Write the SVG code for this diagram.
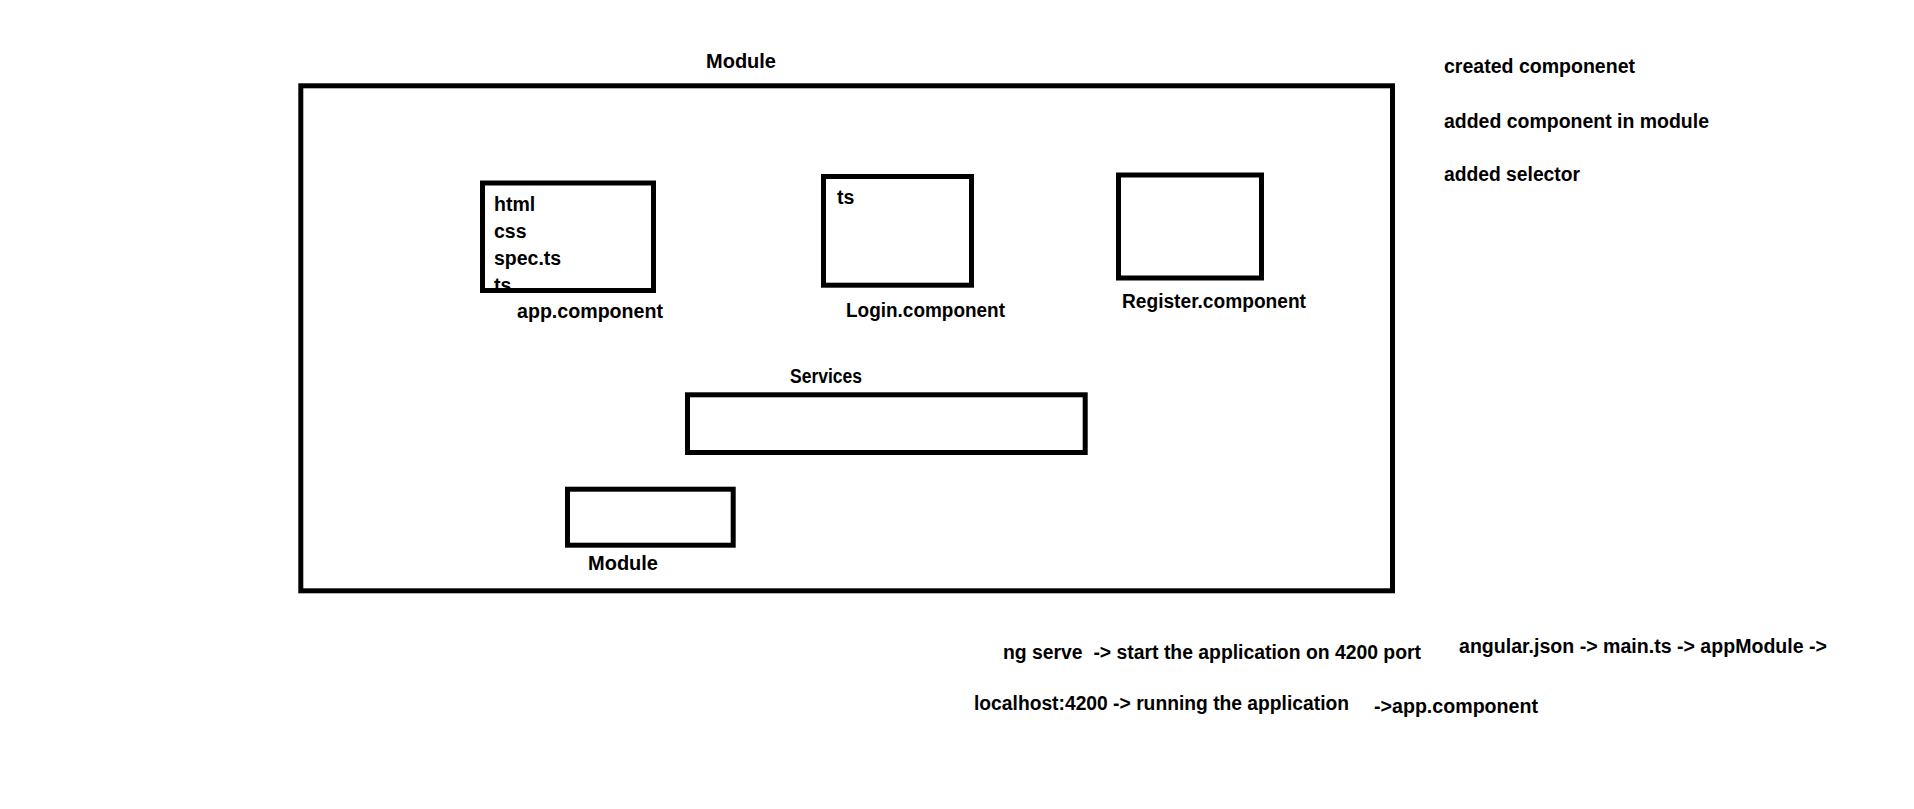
<svg xmlns="http://www.w3.org/2000/svg" width="1914" height="809" viewBox="0 0 1914 809">
<style>
.box{fill:none;stroke:#000;stroke-width:5}
.t{font-family:"Liberation Sans",Arial,sans-serif;font-weight:bold;font-size:19.5px;fill:#000;white-space:pre}
</style>
<defs>
<clipPath id="appClip"><rect x="485" y="186" width="166" height="102"/></clipPath>
</defs>
<rect width="1914" height="809" fill="#fff"/>
<g id="module-outer">
<rect class="box" x="300.8" y="85.8" width="1091.7" height="505"/>
<text class="t" x="706" y="68" textLength="70" lengthAdjust="spacingAndGlyphs">Module</text>
</g>
<g id="app-component">
<g clip-path="url(#appClip)">
<text class="t" x="494" y="211">html</text>
<text class="t" x="494" y="238">css</text>
<text class="t" x="494" y="265">spec.ts</text>
<text class="t" x="494" y="292">ts</text>
</g>
<rect class="box" x="482.5" y="183" width="171" height="107.5"/>
<text class="t" x="517" y="318" textLength="146" lengthAdjust="spacingAndGlyphs">app.component</text>
</g>
<g id="login-component">
<rect class="box" x="823.5" y="176.5" width="148" height="108.7"/>
<text class="t" x="837" y="204">ts</text>
<text class="t" x="846" y="317" textLength="159" lengthAdjust="spacingAndGlyphs">Login.component</text>
</g>
<g id="register-component">
<rect class="box" x="1118.5" y="175" width="143" height="103"/>
<text class="t" x="1122" y="308" textLength="184" lengthAdjust="spacingAndGlyphs">Register.component</text>
</g>
<g id="services">
<rect class="box" x="687.5" y="394.8" width="397.7" height="57.7"/>
<text class="t" x="790" y="383" textLength="72" lengthAdjust="spacingAndGlyphs">Services</text>
</g>
<g id="module-inner">
<rect class="box" x="567.5" y="489.2" width="165.7" height="56"/>
<text class="t" x="588" y="569.5" textLength="70" lengthAdjust="spacingAndGlyphs">Module</text>
</g>
<g id="notes">
<text class="t" x="1444" y="73" textLength="191" lengthAdjust="spacingAndGlyphs">created componenet</text>
<text class="t" x="1444" y="127.5" textLength="265" lengthAdjust="spacingAndGlyphs">added component in module</text>
<text class="t" x="1444" y="181" textLength="136" lengthAdjust="spacingAndGlyphs">added selector</text>
<text class="t" x="1003" y="659" textLength="418" lengthAdjust="spacingAndGlyphs">ng serve  -&gt; start the application on 4200 port</text>
<text class="t" x="1459" y="653" textLength="368" lengthAdjust="spacingAndGlyphs">angular.json -&gt; main.ts -&gt; appModule -&gt;</text>
<text class="t" x="974" y="710" textLength="375" lengthAdjust="spacingAndGlyphs">localhost:4200 -&gt; running the application</text>
<text class="t" x="1374" y="713" textLength="164" lengthAdjust="spacingAndGlyphs">-&gt;app.component</text>
</g>
<g id="connectors"></g>
</svg>
